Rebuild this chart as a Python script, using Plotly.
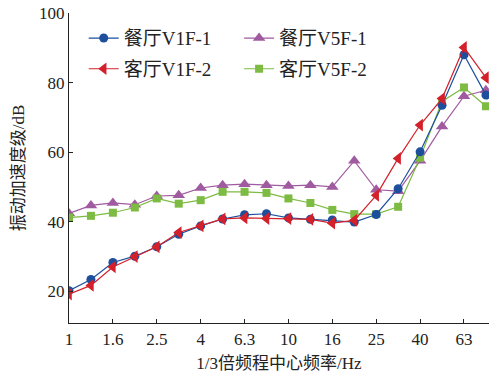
import plotly.graph_objects as go

freqs = ["1", "1.25", "1.6", "2", "2.5", "3.15", "4", "5", "6.3", "8", "10", "12.5",
         "16", "20", "25", "31.5", "40", "50", "63", "80"]
tick_labels = ["1", "1.6", "2.5", "4", "6.3", "10", "16", "25", "40", "63"]

v1f_1 = [20.2, 23.4, 28.3, 30.1, 32.8, 36.4, 38.8, 40.8, 42.0, 42.3, 41.1, 40.7, 40.5, 39.9, 42.1, 49.5, 60.1, 73.5, 88.0, 76.4]
v5f_1 = [42.4, 44.7, 45.4, 44.9, 47.4, 47.6, 49.7, 50.5, 50.8, 50.5, 50.3, 50.5, 50.0, 57.5, 49.2, 48.8, 57.5, 67.4, 76.1, 77.8]
v1f_2 = [19.2, 21.7, 27.0, 30.0, 32.8, 36.9, 38.8, 40.8, 41.1, 40.9, 40.9, 40.7, 39.6, 40.4, 47.6, 58.2, 67.8, 75.4, 90.1, 81.4]
v5f_2 = [41.2, 41.7, 42.6, 44.1, 46.7, 45.2, 46.2, 48.6, 48.6, 48.3, 46.7, 45.4, 43.4, 42.2, 42.2, 44.3, 58.4, 74.6, 78.6, 73.2]

series = [
    ("餐厅V1F-1", v1f_1, "#1d4f9c", "circle", 9, "legend"),
    ("客厅V1F-2", v1f_2, "#d3202a", "triangle-left", 11, "legend"),
    ("餐厅V5F-1", v5f_1, "#a05aa0", "triangle-up", 11, "legend2"),
    ("客厅V5F-2", v5f_2, "#7dbb42", "square", 8, "legend2"),
]

x_idx = list(range(len(freqs)))
fig = go.Figure()
for name, vals, color, sym, size, leg in [series[2], series[3], series[0], series[1]]:
    fig.add_trace(go.Scatter(
        x=x_idx, y=vals, name=name, mode="lines+markers",
        line=dict(color=color, width=1.2),
        marker=dict(symbol=sym, size=size, color=color),
        legend=leg, legendgroup=name,
    ))

font_family = "Liberation Serif, Noto Sans CJK SC, serif"
fig.update_layout(
    width=489, height=374,
    margin=dict(l=69, r=0, t=13, b=51),
    paper_bgcolor="white", plot_bgcolor="white",
    font=dict(family=font_family, size=17, color="#222"),
    showlegend=True,
    legend=dict(x=0.035, y=0.98, xanchor="left", yanchor="top", bgcolor="rgba(0,0,0,0)",
                font=dict(size=19, family=font_family), traceorder="grouped",
                tracegroupgap=3, itemwidth=30),
    legend2=dict(x=0.405, y=0.98, xanchor="left", yanchor="top", bgcolor="rgba(0,0,0,0)",
                 font=dict(size=19, family=font_family), traceorder="grouped",
                 tracegroupgap=3, itemwidth=30),
)
fig.update_xaxes(
    range=[0, 19.14], tickmode="array",
    tickvals=[freqs.index(t) for t in tick_labels], ticktext=tick_labels,
    showline=True, linecolor="#222", linewidth=1.2, showgrid=False, zeroline=False,
    ticks="inside", ticklen=4, tickcolor="#222",
    tickfont=dict(size=17, family=font_family),
    title=dict(text="1/3倍频程中心频率/Hz", font=dict(size=17, family=font_family), standoff=9),
)
fig.update_yaxes(
    range=[10.9, 100], tickvals=[20, 40, 60, 80, 100],
    showline=True, linecolor="#222", linewidth=1.2, showgrid=False, zeroline=False,
    ticks="inside", ticklen=4, tickcolor="#222",
    tickfont=dict(size=17, family=font_family),
    title=dict(text="振动加速度级/dB", font=dict(size=17, family=font_family), standoff=10),
)
fig.write_html("out.html")
